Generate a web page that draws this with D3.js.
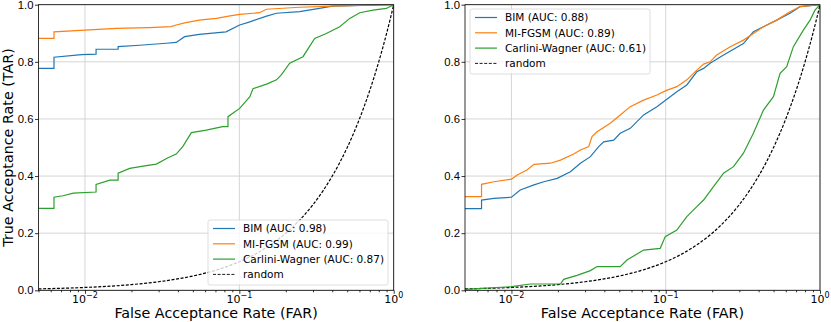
<!DOCTYPE html>
<html>
<head>
<meta charset="utf-8">
<script src="https://cdn.jsdelivr.net/npm/d3@7"></script>
<style>
  body { margin: 0; background: #fff; }
  svg { font-family: "DejaVu Sans", sans-serif; }
  .grid line { stroke: #d0d0d0; stroke-width: 0.9; }
  .axis path, .axis line { stroke: #000; stroke-width: 0.8; }
  .axis text { font-size: 11.3px; fill: #000; }
  .series { fill: none; stroke-width: 1.2; }
  .legendText { font-size: 10.5px; fill: #000; }
</style>
</head>
<body>
<script>
(function(){

    //series names and colours
    var seriesNames = ["BIM", "MI-FGSM", "Carlini-Wagner"];
    var seriesColors = ["#1f77b4", "#ff7f0e", "#2ca02c"];

    //AUC values shown in the legends, one array per panel
    var aucLeft = ["0.98", "0.99", "0.87"];
    var aucRight = ["0.88", "0.89", "0.61"];

    //axis ticks
    var yTicks = [0, 0.2, 0.4, 0.6, 0.8, 1.0];
    var xMajorTicks = [0.01, 0.1, 1];
    var xMajorExp = ["\u22122", "\u22121", "0"];
    var xMinorTicks = [0.005, 0.006, 0.007, 0.008, 0.009,
                       0.02, 0.03, 0.04, 0.05, 0.06, 0.07, 0.08, 0.09,
                       0.2, 0.3, 0.4, 0.5, 0.6, 0.7, 0.8, 0.9];

    //ROC points [FAR, TAR], left panel
    var bimLeft = [[0.005,0.777],[0.0063,0.777],[0.0063,0.816],[0.0095,0.825],[0.0118,0.827],[0.0118,0.844],
        [0.0164,0.844],[0.0164,0.853],[0.0226,0.858],[0.0336,0.865],[0.039,0.868],[0.0442,0.888],[0.055,0.896],
        [0.082,0.905],[0.1005,0.929],[0.117,0.940],[0.15,0.960],[0.174,0.970],[0.246,0.9755],[0.33,0.987],
        [0.40,0.995],[1,1]];
    var mifgsmLeft = [[0.005,0.882],[0.0063,0.882],[0.0063,0.905],[0.01,0.911],[0.016,0.917],[0.026,0.920],
        [0.036,0.923],[0.039,0.929],[0.045,0.937],[0.055,0.946],[0.071,0.952],[0.087,0.961],[0.1005,0.966],
        [0.135,0.972],[0.15,0.984],[0.246,0.991],[0.40,0.995],[0.665,0.998],[1,1]];
    var cwLeft = [[0.005,0.287],[0.0063,0.287],[0.0063,0.326],[0.0072,0.331],[0.0084,0.340],[0.0118,0.344],
        [0.0118,0.371],[0.0145,0.386],[0.0164,0.386],[0.0164,0.410],[0.0195,0.427],[0.0238,0.435],[0.029,0.442],
        [0.0345,0.464],[0.039,0.477],[0.043,0.503],[0.0489,0.552],[0.061,0.561],[0.078,0.573],[0.0844,0.573],
        [0.0844,0.608],[0.1005,0.637],[0.117,0.678],[0.1226,0.706],[0.15,0.722],[0.174,0.737],[0.187,0.754],
        [0.212,0.795],[0.2585,0.818],[0.3076,0.882],[0.366,0.899],[0.447,0.923],[0.519,0.952],[0.6025,0.972],
        [0.7345,0.981],[0.896,0.987],[1,1]];

    //ROC points [FAR, TAR], right panel
    var bimRight = [[0.005,0.286],[0.0064,0.286],[0.0064,0.316],[0.0077,0.322],[0.01,0.326],[0.0114,0.351],
        [0.014,0.369],[0.0162,0.380],[0.0198,0.392],[0.0241,0.415],[0.028,0.445],[0.0325,0.468],[0.0368,0.503],
        [0.0396,0.520],[0.046,0.526],[0.0507,0.550],[0.0589,0.567],[0.0719,0.614],[0.0877,0.643],[0.1002,0.666],
        [0.118,0.695],[0.137,0.719],[0.159,0.765],[0.176,0.777],[0.194,0.795],[0.237,0.824],[0.319,0.864],
        [0.370,0.905],[0.430,0.923],[0.524,0.946],[0.639,0.970],[0.742,0.993],[1,1]];
    var mifgsmRight = [[0.005,0.328],[0.0064,0.328],[0.0064,0.371],[0.0077,0.380],[0.01,0.389],[0.0109,0.404],
        [0.0126,0.421],[0.014,0.441],[0.0179,0.445],[0.0208,0.456],[0.0253,0.477],[0.028,0.491],[0.0317,0.503],
        [0.0333,0.538],[0.0359,0.555],[0.0437,0.585],[0.0507,0.614],[0.0589,0.643],[0.0719,0.666],[0.0877,0.684],
        [0.1002,0.699],[0.118,0.713],[0.137,0.737],[0.159,0.771],[0.176,0.792],[0.194,0.800],[0.214,0.824],
        [0.262,0.853],[0.319,0.876],[0.370,0.899],[0.430,0.923],[0.524,0.946],[0.639,0.9755],[0.742,0.993],
        [0.862,0.9965],[1,1]];
    var cwRight = [[0.005,0.0035],[0.01,0.0128],[0.0133,0.022],[0.0208,0.022],[0.0218,0.0385],[0.0266,0.0525],
        [0.0325,0.069],[0.0359,0.083],[0.0507,0.083],[0.0561,0.106],[0.0719,0.141],[0.0921,0.147],[0.0993,0.188],
        [0.118,0.211],[0.137,0.258],[0.159,0.293],[0.176,0.316],[0.204,0.363],[0.237,0.410],[0.275,0.433],
        [0.319,0.480],[0.370,0.550],[0.430,0.631],[0.499,0.678],[0.551,0.760],[0.6085,0.783],[0.672,0.853],
        [0.780,0.911],[0.862,0.946],[0.928,0.981],[1,1]];

    //chance line: TAR equals FAR at these points
    var randomFar = [0.005, 0.01, 0.02, 0.03, 0.05, 0.07, 0.1, 0.13, 0.16, 0.2, 0.25, 0.3, 0.35, 0.4,
                     0.45, 0.5, 0.55, 0.6, 0.65, 0.7, 0.75, 0.8, 0.85, 0.9, 0.95, 1];

    var width = 831, height = 322;

    var svg = d3.select("body")
        .append("svg")
        .attr("width", width)
        .attr("height", height);

    var panels = [
        {left: 38.5, right: 393.7, series: [bimLeft, mifgsmLeft, cwLeft], auc: aucLeft,
         legend: {x: 208, y: 220, w: 180, h: 65}, yLabel: true},
        {left: 465, right: 820, series: [bimRight, mifgsmRight, cwRight], auc: aucRight,
         legend: {x: 470, y: 9, w: 180, h: 65}, yLabel: false}
    ];

    panels.forEach(function(p, idx){ drawPanel(p, idx); });

    function drawPanel(p, idx){
        var top = 4.7, bottom = 290.3;

        var x = d3.scaleLog().domain([0.005, 1]).range([p.left, p.right]);
        var y = d3.scaleLinear().domain([0, 1]).range([bottom, top]);

        var g = svg.append("g");

        //clip for the curves
        svg.append("clipPath")
            .attr("id", "clip" + idx)
            .append("rect")
            .attr("x", p.left).attr("y", top)
            .attr("width", p.right - p.left).attr("height", bottom - top);

        //grid
        var grid = g.append("g").attr("class", "grid");
        grid.selectAll(".gx").data(xMajorTicks).enter().append("line")
            .attr("x1", function(d){ return x(d); }).attr("x2", function(d){ return x(d); })
            .attr("y1", top).attr("y2", bottom);
        grid.selectAll(".gy").data(yTicks).enter().append("line")
            .attr("y1", function(d){ return y(d); }).attr("y2", function(d){ return y(d); })
            .attr("x1", p.left).attr("x2", p.right);

        //curves
        var line = d3.line()
            .x(function(d){ return x(d[0]); })
            .y(function(d){ return y(d[1]); });

        var curves = g.append("g").attr("clip-path", "url(#clip" + idx + ")");

        curves.append("path")
            .datum(randomFar)
            .attr("class", "series")
            .attr("stroke", "#000")
            .attr("stroke-width", 0.9)
            .attr("stroke-dasharray", "3,1.6")
            .attr("d", d3.line()
                .x(function(d){ return x(d); })
                .y(function(d){ return y(d); })
                .curve(d3.curveMonotoneX));

        p.series.forEach(function(s, i){
            curves.append("path")
                .datum(s)
                .attr("class", "series")
                .attr("stroke", seriesColors[i])
                .attr("d", line);
        });

        //x axis
        var xAxis = g.append("g")
            .attr("class", "axis")
            .attr("transform", "translate(0," + bottom + ")")
            .call(d3.axisBottom(x).tickValues(xMajorTicks).tickSize(3.5).tickSizeOuter(0).tickFormat(""));
        xAxis.select(".domain").remove();
        xAxis.selectAll(".tick text").remove();

        g.append("g")
            .attr("class", "axis")
            .attr("transform", "translate(0," + bottom + ")")
            .call(d3.axisBottom(x).tickValues(xMinorTicks).tickSize(2).tickFormat(""))
            .call(function(a){ a.select(".domain").remove(); });

        var labels = g.selectAll(".xlab").data(xMajorTicks).enter().append("text")
            .attr("class", "xlab")
            .attr("x", function(d){ return x(d); })
            .attr("y", bottom + 12.5)
            .attr("text-anchor", "middle")
            .style("font-size", "11px");
        labels.append("tspan").text("10");
        labels.append("tspan")
            .attr("dy", -5)
            .style("font-size", "8px")
            .text(function(d, i){ return xMajorExp[i]; });

        //y axis
        var yAxis = g.append("g")
            .attr("class", "axis")
            .attr("transform", "translate(" + p.left + ",0)")
            .call(d3.axisLeft(y).tickValues(yTicks).tickSize(3.5).tickFormat(d3.format(".1f")));
        yAxis.select(".domain").remove();
        yAxis.selectAll(".tick text").attr("x", -5);

        //frame
        g.append("rect")
            .attr("x", p.left).attr("y", top)
            .attr("width", p.right - p.left).attr("height", bottom - top)
            .attr("fill", "none")
            .attr("stroke", "#000")
            .attr("stroke-width", 0.8);

        //axis titles
        g.append("text")
            .attr("x", (p.left + p.right) / 2)
            .attr("y", 318)
            .attr("text-anchor", "middle")
            .style("font-size", "14.3px")
            .text("False Acceptance Rate (FAR)");

        if (p.yLabel){
            g.append("text")
                .attr("transform", "translate(13," + ((top + bottom) / 2) + ") rotate(-90)")
                .attr("text-anchor", "middle")
                .style("font-size", "14.3px")
                .text("True Acceptance Rate (TAR)");
        }

        //legend
        var L = p.legend;
        var leg = g.append("g");
        leg.append("rect")
            .attr("x", L.x).attr("y", L.y)
            .attr("width", L.w).attr("height", L.h)
            .attr("rx", 2)
            .attr("fill", "#fff").attr("fill-opacity", 0.8)
            .attr("stroke", "#d6d6d6").attr("stroke-width", 0.8);

        var entries = seriesNames.map(function(n, i){
            return {label: n + " (AUC: " + p.auc[i] + ")", color: seriesColors[i], dash: null};
        });
        entries.push({label: "random", color: "#000", dash: "3,1.6"});

        entries.forEach(function(e, i){
            var ey = L.y + 8.5 + i * 15.3;
            leg.append("line")
                .attr("x1", L.x + 5).attr("x2", L.x + 27)
                .attr("y1", ey).attr("y2", ey)
                .attr("stroke", e.color)
                .attr("stroke-width", e.dash ? 0.9 : 1.2)
                .attr("stroke-dasharray", e.dash);
            leg.append("text")
                .attr("class", "legendText")
                .attr("x", L.x + 35)
                .attr("y", ey + 3.8)
                .text(e.label);
        });
    };

})();
</script>
</body>
</html>
